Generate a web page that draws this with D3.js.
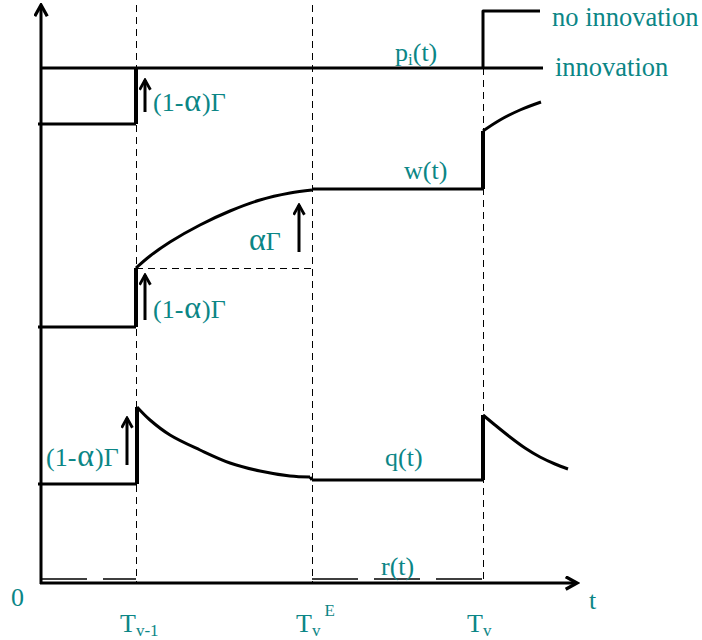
<!DOCTYPE html>
<html><head><meta charset="utf-8">
<script src="https://cdn.jsdelivr.net/npm/d3@7"></script>
<style>body{margin:0;background:#fff}svg{display:block}</style>
</head><body>
<svg id="c" width="702" height="640"></svg>
<script>
// time markers: T_{v-1}, T_v^E, T_v
const tMarks = [95, 271, 442];
const tLabels = [["T","v-1",""],["T","v","E"],["T","v",""]];
// p_i(t)
const pLow = 459, pInnov = 515, pNoInnov = 572;
const pBefore = [[-3, 459], [95, 459]];
const pInnovLine = [[0, 515], [502, 515]];
const pNoInnovLine = [[442, 515], [442, 572], [499, 572]];
// w(t)
const wBefore = [[-3, 256], [95, 256]];
const wCurve1 = [[95, 315], [109, 327], [129, 341], [159, 358], [189, 372], [219, 383], [249, 390], [271, 393]];
const wPlateau = [[271, 394], [442, 394]];
const wCurve2 = [[442, 452], [459, 463], [479, 473], [500, 481]];
// q(t)
const qBefore = [[-3, 99], [96, 99]];
const qCurve1 = [[96, 176], [109, 163], [129, 148], [159, 133], [189, 120], [219, 112], [249, 107], [269, 106], [271, 103]];
const qPlateau = [[271, 103], [442, 103]];
const qCurve2 = [[442, 168], [454, 158], [469, 146], [484, 135], [499, 126], [514, 119], [527, 114]];
// r(t)
const rSegs = [[[0, 4], [95, 4]], [[271, 4], [442, 4]]];

const svg = d3.select("#c");
const x = d3.scaleLinear().domain([0, 536]).range([41, 577]);
const y = d3.scaleLinear().domain([0, 578]).range([583, 5]);
const teal = "#0b8686";
const font = "'Liberation Serif','Times New Roman',serif";

const defs = svg.append("defs");
defs.append("marker").attr("id","ah").attr("viewBox","0 0 12 12").attr("refX",10).attr("refY",6)
  .attr("markerWidth",13).attr("markerHeight",13).attr("markerUnits","userSpaceOnUse").attr("orient","auto")
  .append("path").attr("d","M1,1 L10,6 L1,11").attr("fill","none").attr("stroke","#000").attr("stroke-width",2.6);
defs.append("marker").attr("id","axh").attr("viewBox","0 0 12 12").attr("refX",10).attr("refY",6)
  .attr("markerWidth",15).attr("markerHeight",15).attr("markerUnits","userSpaceOnUse").attr("orient","auto")
  .append("path").attr("d","M1,1 L10,6 L1,11").attr("fill","none").attr("stroke","#000").attr("stroke-width",2.6);

// dashed verticals
tMarks.forEach((t, i) => {
  svg.append("line").attr("x1", x(t) + 0.5).attr("x2", x(t) + 0.5)
    .attr("y1", i === 2 ? y(pInnov) : y(578)).attr("y2", y(0))
    .attr("stroke", "#000").attr("stroke-width", 1).attr("stroke-dasharray", "7,5");
});
// dashed horizontal at w jump level
svg.append("line").attr("x1", x(tMarks[0])).attr("x2", x(tMarks[1]))
  .attr("y1", y(wCurve1[0][1]) + 0.5).attr("y2", y(wCurve1[0][1]) + 0.5)
  .attr("stroke", "#000").attr("stroke-width", 1).attr("stroke-dasharray", "7,5");

// axes
svg.append("line").attr("x1", x(0)).attr("x2", x(0)).attr("y1", y(0)+1).attr("y2", y(578))
  .attr("stroke","#000").attr("stroke-width",3).attr("marker-end","url(#axh)");
svg.append("line").attr("x1", x(0)-1).attr("x2", x(536)).attr("y1", y(0)).attr("y2", y(0))
  .attr("stroke","#000").attr("stroke-width",3).attr("marker-end","url(#axh)");

const lin = d3.line().x(d => x(d[0])).y(d => y(d[1]));
const crv = d3.line().x(d => x(d[0])).y(d => y(d[1])).curve(d3.curveCatmullRom.alpha(0.5));
function path(data, gen, w) {
  svg.append("path").attr("d", gen(data)).attr("fill","none").attr("stroke","#000")
    .attr("stroke-width", w || 3).attr("stroke-linejoin","round");
}
// p
path(pBefore, lin); path(pInnovLine, lin); path(pNoInnovLine, lin);
path([[tMarks[0], pLow], [tMarks[0], pInnov]], lin, 4);
// w
path(wBefore, lin);
path([[tMarks[0], wBefore[1][1]], [tMarks[0], wCurve1[0][1]]], lin, 4);
path(wCurve1, crv); path(wPlateau, lin);
path([[tMarks[2], wPlateau[1][1]], [tMarks[2], wCurve2[0][1]]], lin, 4);
path(wCurve2, crv);
// q
path(qBefore, lin);
path([[qCurve1[0][0], qBefore[1][1]], [qCurve1[0][0], qCurve1[0][1]]], lin, 4);
path(qCurve1.slice(0, -1), crv);
path(qCurve1.slice(-2), lin);
path(qPlateau, lin);
path([[tMarks[2], qPlateau[1][1]], [tMarks[2], qCurve2[0][1]]], lin, 4);
path(qCurve2, crv);
// r
rSegs.forEach(s => svg.append("path").attr("d", lin(s)).attr("fill","none").attr("stroke","#000")
  .attr("stroke-width",1.5).attr("stroke-dasharray","46,16"));

// arrows (value coordinates)
const arrows = [[104, 471, 503], [104, 263, 308], [258, 331, 378], [86, 118, 165]];
arrows.forEach(a => svg.append("line").attr("x1", x(a[0])).attr("x2", x(a[0]))
  .attr("y1", y(a[1])).attr("y2", y(a[2])).attr("stroke","#000").attr("stroke-width",3)
  .attr("marker-end","url(#ah)"));

// labels
function label(txt, px, py, size, anchor) {
  const t = svg.append("text").attr("x", px).attr("y", py).attr("fill", teal)
    .attr("font-family", font).attr("font-size", size || 26).attr("text-anchor", anchor || "start");
  if (typeof txt === "string") t.text(txt);
  else txt.forEach(p => t.append("tspan").text(p[0]).attr("font-size", p[1] || null)
    .attr("dy", p[2] || null));
  return t;
}
function gammaLabel(px, py) {
  const t = svg.append("text").attr("x", px).attr("y", py).attr("fill", teal)
    .attr("font-family", font).attr("font-size", 26);
  t.append("tspan").text("(1-");
  t.append("tspan").text("α").attr("font-size", 32).attr("dx", 1);
  t.append("tspan").text(")Γ").attr("dx", 1);
}
label("no innovation", 552, 26, 26.5);
label("innovation", 555, 76, 26.5);
label([["p"], ["i", 17, 4], ["(t)", null, -4]], 395, 61, 26);
gammaLabel(153, 111);
label("w(t)", 404, 179, 26);
const ag = svg.append("text").attr("x", 249).attr("y", 250).attr("fill", teal)
  .attr("font-family", font).attr("font-size", 26);
ag.append("tspan").text("α").attr("font-size", 32);
ag.append("tspan").text("Γ");
gammaLabel(153, 318);
label("q(t)", 385, 466, 26);
gammaLabel(46, 466);
label("r(t)", 381, 575, 26);
label("0", 11, 606, 26);
label("t", 589, 609, 26);
tLabels.forEach((l, i) => {
  const t = svg.append("text").attr("x", x(tMarks[i]) - 16).attr("y", 632).attr("fill", teal)
    .attr("font-family", font).attr("font-size", 26);
  t.append("tspan").text(l[0]);
  t.append("tspan").text(l[1]).attr("font-size", 17).attr("dy", 4);
  if (l[2]) t.append("tspan").text(l[2]).attr("font-size", 17).attr("dy", -20).attr("dx", 4);
});
</script>
</body></html>
